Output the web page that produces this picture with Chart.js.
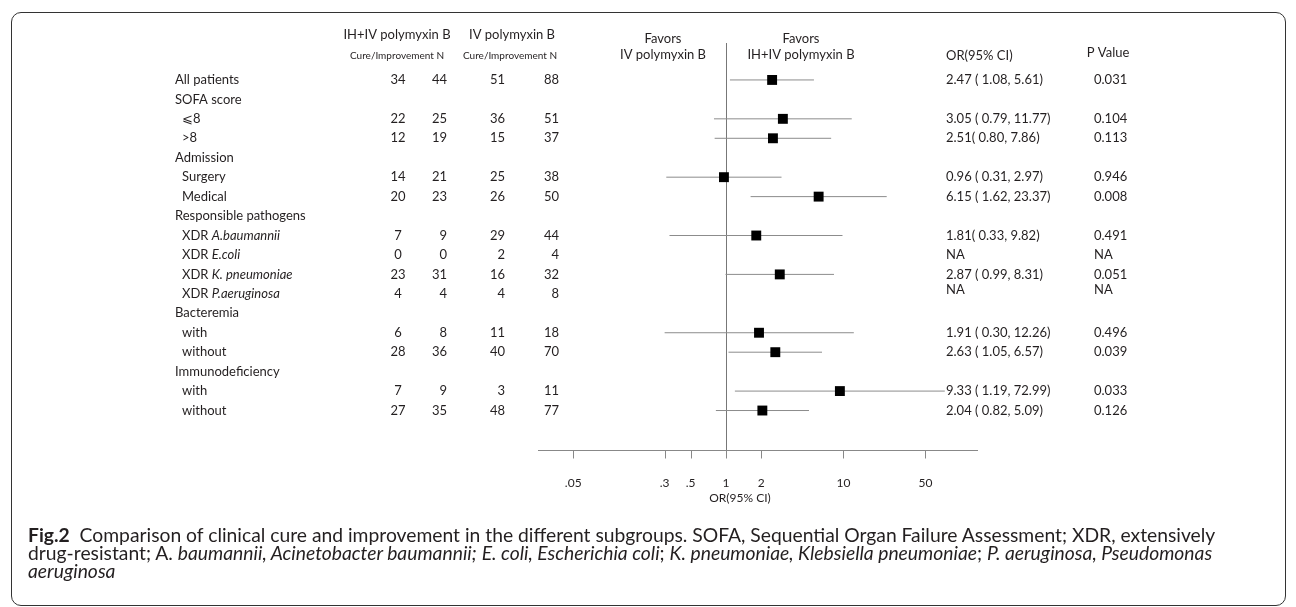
<!DOCTYPE html>
<html>
<head>
<meta charset="utf-8">
<script src="https://cdn.jsdelivr.net/npm/chart.js@4.4.1/dist/chart.umd.min.js"></script>
<style>
  html, body { margin: 0; padding: 0; background: #fff; }
  #wrap { position: relative; width: 1296px; height: 607px; overflow: hidden; font-family: Lato, sans-serif; color: #231f20; }
  #frame { position: absolute; left: 11px; top: 12px; width: 1275px; height: 594px; border: 1px solid #333; border-radius: 10px; box-sizing: border-box; }
  #plot { position: absolute; left: 0; top: 0; }
  #caption { position: absolute; left: 28px; top: 526px; font-size: 19.3px; line-height: 18px; white-space: nowrap; }
</style>
</head>
<body>
<div id="wrap">
  <div id="frame"></div>
  <canvas id="plot" width="1296" height="607"></canvas>
  <div id="caption"><b>Fig.2</b>&nbsp; Comparison of clinical cure and improvement in the different subgroups. SOFA, Sequential Organ Failure Assessment; XDR, extensively<br>drug-resistant; A. <i>baumannii, Acinetobacter baumannii;</i> <i>E. coli, Escherichia coli</i>; <i>K. pneumoniae, Klebsiella pneumoniae</i>; <i>P. aeruginosa, Pseudomonas</i><br><i>aeruginosa</i></div>
</div>
<script>
// rows of the table, top to bottom
const rowNames = ["All patients", "SOFA score", "\u2A7D8", ">8", "Admission", "Surgery", "Medical",
  "Responsible pathogens", "XDR ", "XDR ", "XDR ", "XDR ", "Bacteremia", "with", "without",
  "Immunodeficiency", "with", "without"];
const rowItalic = ["", "", "", "", "", "", "", "", "A.baumannii", "E.coli", "K. pneumoniae", "P.aeruginosa",
  "", "", "", "", "", ""];
const isSub = [false, false, true, true, false, true, true, false, true, true, true, true, false, true, true, false, true, true];

const ihCure = [34, null, 22, 12, null, 14, 20, null, 7, 0, 23, 4, null, 6, 28, null, 7, 27];
const ihN    = [44, null, 25, 19, null, 21, 23, null, 9, 0, 31, 4, null, 8, 36, null, 9, 35];
const ivCure = [51, null, 36, 15, null, 25, 26, null, 29, 2, 16, 4, null, 11, 40, null, 3, 48];
const ivN    = [88, null, 51, 37, null, 38, 50, null, 44, 4, 32, 8, null, 18, 70, null, 11, 77];

const oddsRatio = [2.47, null, 3.05, 2.51, null, 0.96, 6.15, null, 1.81, null, 2.87, null, null, 1.91, 2.63, null, 9.33, 2.04];
const ciLow     = [1.08, null, 0.79, 0.80, null, 0.31, 1.62, null, 0.33, null, 0.99, null, null, 0.30, 1.05, null, 1.19, 0.82];
const ciHigh    = [5.61, null, 11.77, 7.86, null, 2.97, 23.37, null, 9.82, null, 8.31, null, null, 12.26, 6.57, null, 72.99, 5.09];
const orLabels  = ["2.47 ( 1.08, 5.61)", null, "3.05 ( 0.79, 11.77)", "2.51( 0.80, 7.86)", null, "0.96 ( 0.31, 2.97)",
  "6.15 ( 1.62, 23.37)", null, "1.81( 0.33, 9.82)", "NA", "2.87 ( 0.99, 8.31)", "NA", null,
  "1.91 ( 0.30, 12.26)", "2.63 ( 1.05, 6.57)", null, "9.33 ( 1.19, 72.99)", "2.04 ( 0.82, 5.09)"];
const pValues   = ["0.031", null, "0.104", "0.113", null, "0.946", "0.008", null, "0.491", "NA", "0.051", "NA", null, "0.496", "0.039", null, "0.033", "0.126"];

const xTicks = [0.05, 0.3, 0.5, 1, 2, 10, 50];
const xTickLabels = [".05", ".3", ".5", "1", "2", "10", "50"];

// points and CI segments
const points = [];
const segments = [];
oddsRatio.forEach((v, i) => {
  if (v == null) return;
  points.push({ x: v, y: i });
  segments.push({ x: ciLow[i], y: i }, { x: ciHigh[i], y: i }, { x: null, y: null });
});

const TEXT = '#231f20';
const font = (size, style) => (style || '') + ' ' + size + 'px Lato, sans-serif';

const forestText = {
  id: 'forestText',
  beforeDatasetsDraw(chart) {
    const { ctx, chartArea, scales: { x } } = chart;
    ctx.save();
    // reference line at OR = 1
    ctx.strokeStyle = '#777';
    ctx.lineWidth = 1;
    const x1 = Math.round(x.getPixelForValue(1)) + 0.5;
    ctx.beginPath();
    ctx.moveTo(x1, chartArea.top);
    ctx.lineTo(x1, chartArea.bottom);
    ctx.stroke();
    // x axis
    const ay = chartArea.bottom + 0.5;
    ctx.strokeStyle = '#888';
    ctx.beginPath();
    ctx.moveTo(chartArea.left, ay);
    ctx.lineTo(chartArea.right, ay);
    xTicks.forEach(t => {
      const px = Math.round(x.getPixelForValue(t)) + 0.5;
      ctx.moveTo(px, ay);
      ctx.lineTo(px, ay + 8);
    });
    ctx.stroke();
    ctx.fillStyle = TEXT;
    ctx.font = font(12);
    ctx.textAlign = 'center';
    ctx.textBaseline = 'middle';
    xTicks.forEach((t, k) => ctx.fillText(xTickLabels[k], x.getPixelForValue(t), ay + 33));
    ctx.fillText('OR(95% CI)', 740, ay + 48);
    ctx.restore();
  },
  afterDraw(chart) {
    const { ctx, scales: { y } } = chart;
    ctx.save();
    ctx.fillStyle = TEXT;
    ctx.textBaseline = 'middle';

    // headers
    ctx.font = font(13);
    ctx.textAlign = 'center';
    ctx.fillText('IH+IV polymyxin B', 397, 35);
    ctx.fillText('IV polymyxin B', 512, 35);
    ctx.fillText('Favors', 663, 39);
    ctx.fillText('IV polymyxin B', 663, 55);
    ctx.fillText('Favors', 801, 39);
    ctx.fillText('IH+IV polymyxin B', 801, 55);
    ctx.fillText('P Value', 1108, 53);
    ctx.textAlign = 'left';
    ctx.fillText('OR(95% CI)', 946, 56);
    ctx.font = font(10);
    ctx.textAlign = 'center';
    ctx.fillText('Cure/Improvement N', 397, 56);
    ctx.fillText('Cure/Improvement N', 510, 56);

    // table rows
    rowNames.forEach((name, i) => {
      const py = y.getPixelForValue(i);
      const lx = isSub[i] ? 182 : 175;
      ctx.textAlign = 'left';
      ctx.font = font(13);
      ctx.fillText(name, lx, py);
      if (rowItalic[i]) {
        const w = ctx.measureText(name).width;
        ctx.font = font(13, 'italic');
        ctx.fillText(rowItalic[i], lx + w, py);
        ctx.font = font(13);
      }
      if (ihCure[i] != null) {
        ctx.textAlign = 'center';
        ctx.fillText(String(ihCure[i]), 398, py);
        ctx.textAlign = 'right';
        ctx.fillText(String(ihN[i]), 447, py);
        ctx.fillText(String(ivCure[i]), 505, py);
        ctx.fillText(String(ivN[i]), 559, py);
      }
      // the last pathogen row sits a little higher in the OR / P columns
      const ty = rowItalic[i] === 'P.aeruginosa' ? py - 4 : py;
      ctx.textAlign = 'left';
      if (orLabels[i] != null) ctx.fillText(orLabels[i], 946, ty);
      if (pValues[i] != null) ctx.fillText(pValues[i], 1094, ty);
    });
    ctx.restore();
  }
};

new Chart(document.getElementById('plot'), {
  type: 'scatter',
  data: {
    datasets: [
      {
        data: points,
        pointStyle: 'rect',
        pointRadius: 7,
        backgroundColor: '#000',
        borderWidth: 0
      },
      {
        data: segments,
        showLine: true,
        spanGaps: false,
        pointRadius: 0,
        borderColor: '#8c8c8c',
        borderWidth: 1
      }
    ]
  },
  options: {
    responsive: false,
    animation: false,
    events: [],
    layout: { padding: { left: 538, right: 318, top: 43, bottom: 157 } },
    plugins: { legend: { display: false }, tooltip: { enabled: false } },
    scales: {
      x: { type: 'logarithmic', display: false, min: 0.02505, max: 140 },
      y: { type: 'linear', display: false, reverse: true, min: -1.9, max: 19.03 }
    }
  },
  plugins: [forestText]
});
</script>
</body>
</html>
